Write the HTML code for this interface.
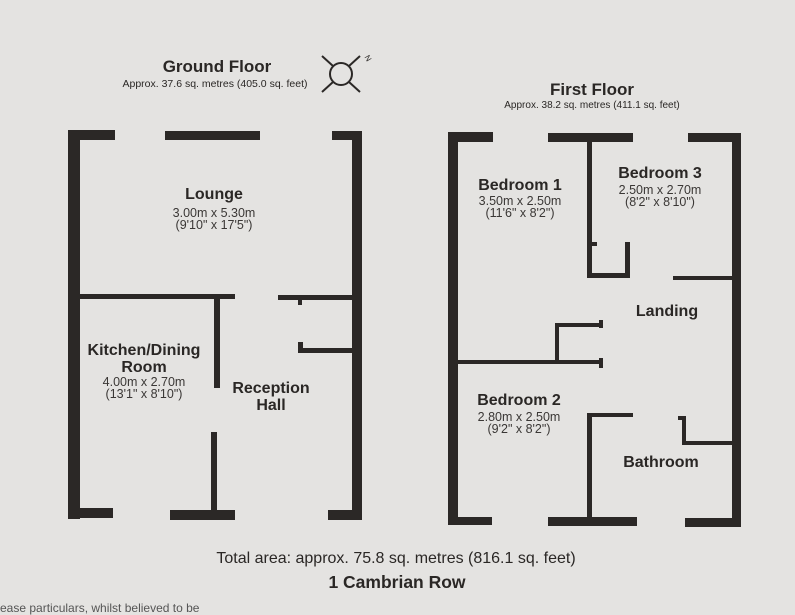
<!DOCTYPE html>
<html><head><style>
body{margin:0;width:795px;height:607px;background:#e4e3e1;position:relative;overflow:hidden;font-family:"Liberation Sans",sans-serif;color:#2a2725}
.w{position:absolute;background:#2b2826}
.t{position:absolute;text-align:center;white-space:nowrap;transform:translateX(-50%)}
.b{font-weight:bold;font-size:16px}
.s{font-size:12.5px;line-height:12px;color:#3a3735}
</style></head><body>
<!-- Ground floor -->
<div class="t" style="left:217px;top:57px;font-weight:bold;font-size:17px">Ground Floor</div>
<div class="t" style="left:215px;top:78px;font-size:10.5px">Approx. 37.6 sq. metres (405.0 sq. feet)</div>
<svg style="position:absolute;left:316px;top:48px" width="60" height="52"><circle cx="25" cy="26" r="11" fill="none" stroke="#2b2826" stroke-width="2"/><path d="M17 18L6 8M33 18L44 8M17 34L6 44M33 34L44 44" stroke="#2b2826" stroke-width="2"/><text x="50" y="10" font-size="8" font-family="Liberation Sans" transform="rotate(60 50 8)" fill="#2b2826">N</text></svg>
<div class="w" style="left:68px;top:130px;width:12px;height:389px"></div>
<div class="w" style="left:68px;top:130px;width:47px;height:10px"></div>
<div class="w" style="left:165px;top:131px;width:95px;height:9px"></div>
<div class="w" style="left:332px;top:131px;width:30px;height:9px"></div>
<div class="w" style="left:352px;top:131px;width:10px;height:389px"></div>
<div class="w" style="left:328px;top:510px;width:34px;height:10px"></div>
<div class="w" style="left:68px;top:508px;width:45px;height:10px"></div>
<div class="w" style="left:170px;top:510px;width:65px;height:10px"></div>
<div class="w" style="left:211px;top:432px;width:6px;height:80px"></div>
<div class="w" style="left:78px;top:294px;width:157px;height:5px"></div>
<div class="w" style="left:214px;top:294px;width:6px;height:94px"></div>
<div class="w" style="left:278px;top:295px;width:76px;height:5px"></div>
<div class="w" style="left:298px;top:299px;width:4px;height:6px"></div>
<div class="w" style="left:298px;top:348px;width:56px;height:5px"></div>
<div class="w" style="left:298px;top:342px;width:5px;height:11px"></div>
<div class="t b" style="left:214px;top:186px">Lounge</div>
<div class="t s" style="left:214px;top:207px">3.00m x 5.30m<br>(9'10" x 17'5")</div>
<div class="t b" style="left:144px;top:342px;line-height:17px">Kitchen/Dining<br>Room</div>
<div class="t s" style="left:144px;top:376px">4.00m x 2.70m<br>(13'1" x 8'10")</div>
<div class="t b" style="left:271px;top:380px;line-height:17px">Reception<br>Hall</div>
<!-- First floor -->
<div class="t" style="left:592px;top:80px;font-weight:bold;font-size:17px">First Floor</div>
<div class="t" style="left:592px;top:100px;font-size:10px">Approx. 38.2 sq. metres (411.1 sq. feet)</div>
<div class="w" style="left:448px;top:132px;width:10px;height:393px"></div>
<div class="w" style="left:448px;top:132px;width:45px;height:10px"></div>
<div class="w" style="left:548px;top:133px;width:85px;height:9px"></div>
<div class="w" style="left:587px;top:133px;width:5px;height:145px"></div>
<div class="w" style="left:587px;top:273px;width:43px;height:5px"></div>
<div class="w" style="left:625px;top:242px;width:5px;height:36px"></div>
<div class="w" style="left:587px;top:242px;width:10px;height:4px"></div>
<div class="w" style="left:688px;top:133px;width:53px;height:9px"></div>
<div class="w" style="left:732px;top:133px;width:9px;height:394px"></div>
<div class="w" style="left:685px;top:518px;width:56px;height:9px"></div>
<div class="w" style="left:673px;top:276px;width:62px;height:4px"></div>
<div class="w" style="left:457px;top:360px;width:146px;height:4px"></div>
<div class="w" style="left:555px;top:323px;width:4px;height:41px"></div>
<div class="w" style="left:555px;top:323px;width:48px;height:4px"></div>
<div class="w" style="left:599px;top:320px;width:4px;height:8px"></div>
<div class="w" style="left:599px;top:358px;width:4px;height:10px"></div>
<div class="w" style="left:448px;top:517px;width:44px;height:8px"></div>
<div class="w" style="left:548px;top:517px;width:89px;height:9px"></div>
<div class="w" style="left:587px;top:413px;width:5px;height:106px"></div>
<div class="w" style="left:587px;top:413px;width:46px;height:4px"></div>
<div class="w" style="left:682px;top:417px;width:4px;height:28px"></div>
<div class="w" style="left:682px;top:441px;width:53px;height:4px"></div>
<div class="w" style="left:678px;top:416px;width:8px;height:4px"></div>
<div class="t b" style="left:520px;top:177px">Bedroom 1</div>
<div class="t s" style="left:520px;top:195px">3.50m x 2.50m<br>(11'6" x 8'2")</div>
<div class="t b" style="left:660px;top:165px">Bedroom 3</div>
<div class="t s" style="left:660px;top:184px">2.50m x 2.70m<br>(8'2" x 8'10")</div>
<div class="t b" style="left:667px;top:303px">Landing</div>
<div class="t b" style="left:519px;top:392px">Bedroom 2</div>
<div class="t s" style="left:519px;top:411px">2.80m x 2.50m<br>(9'2" x 8'2")</div>
<div class="t b" style="left:661px;top:454px">Bathroom</div>
<!-- footer -->
<div class="t" style="left:396px;top:550px;font-size:16px">Total area: approx. 75.8 sq. metres (816.1 sq. feet)</div>
<div class="t" style="left:397px;top:572px;font-size:17.5px;font-weight:bold">1 Cambrian Row</div>
<div style="position:absolute;left:0;top:601px;font-size:12px;color:#555">ease particulars, whilst believed to be</div>
</body></html>
